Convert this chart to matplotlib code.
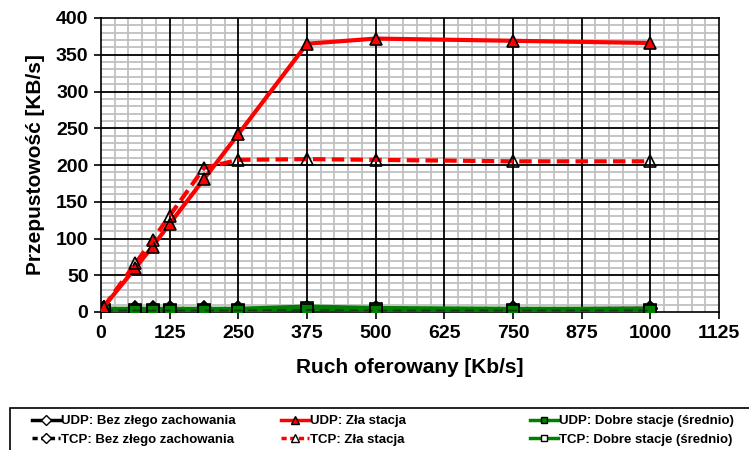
import matplotlib.pyplot as plt
from matplotlib.patches import Rectangle
from matplotlib.lines import Line2D

# offered load [Kb/s]
x = [5, 62.5, 93.75, 125, 187.5, 250, 375, 500, 750, 1000]

# throughput [KB/s]
udp_bez = [5, 5, 5, 5, 5, 5, 5, 5, 5, 6]
tcp_bez = [5, 4, 4, 4, 4, 4, 5, 4, 4, 4]
udp_zla = [7, 60, 89, 120, 181, 242, 365, 372, 369, 366]
tcp_zla = [7, 66, 98, 131, 196, 207, 208, 207, 205, 205]
udp_dobre = [3, 3, 3, 3, 3, 3, 6, 4, 3, 3]
tcp_dobre = [2, 2, 2, 2, 2, 2, 3, 2, 2, 2]

xticks = [0, 125, 250, 375, 500, 625, 750, 875, 1000, 1125]
yticks = [0, 50, 100, 150, 200, 250, 300, 350, 400]

plt.rcParams['font.family'] = ['Liberation Sans', 'DejaVu Sans']

fig = plt.figure(figsize=(7.49, 4.5), dpi=100)
ax = fig.add_axes([101/749, 1-312/450, (719-101)/749, (312-18)/450])

green = '#008000'
# series (green drawn over black, red on top)
ax.plot(x, udp_bez, color='black', lw=1.5, marker='D', ms=7, mfc='white', mec='black', mew=1.2, zorder=3)
ax.plot(x, tcp_bez, color='black', lw=1.5, ls=(0, (5, 3)), marker='D', ms=7, mfc='none', mec='black', mew=1.2, zorder=3)
ax.plot(x, udp_dobre, color=green, lw=4.5, marker='s', ms=8, mfc=green, mec='black', mew=1.2, zorder=4)
ax.plot(x, tcp_dobre, color='#0a3d0a', lw=1.3, ls=(0, (5, 3)), marker='s', ms=8, mfc='none', mec='black', mew=1.2, zorder=4)
ax.plot(x, udp_zla, color='red', lw=3, marker='^', ms=9, mfc='red', mec='black', mew=1.2, zorder=5)
ax.plot(x, tcp_zla, color='red', lw=3, ls=(0, (3, 1.5)), marker='^', ms=9, mfc='none', mec='black', mew=1.2, zorder=5)

ax.set_xlim(0, 1125)
ax.set_ylim(0, 400)
ax.set_xticks(xticks)
ax.set_yticks(yticks)
ax.set_xticks(range(0, 1126, 25), minor=True)
ax.set_yticks(range(0, 401, 10), minor=True)
# gray minor grid, black major grid drawn on top of it
ax.grid(which='minor', color='#c0c0c0', lw=1.3)
ax.set_axisbelow(True)
for v in xticks[1:-1]:
    ax.axvline(v, color='black', lw=1.3, zorder=1)
for v in yticks[1:-1]:
    ax.axhline(v, color='black', lw=1.3, zorder=1)
ax.tick_params(which='minor', length=0)
ax.tick_params(which='major', direction='out', length=5, width=1.2, labelsize=14, pad=4)
for lbl in ax.get_xticklabels() + ax.get_yticklabels():
    lbl.set_fontweight('bold')
for s in ax.spines.values():
    s.set_linewidth(1.2)
    s.set_zorder(2)

ax.set_xlabel('Ruch oferowany [Kb/s]', fontsize=15, fontweight='bold', labelpad=12)
ax.set_ylabel('Przepustowość [KB/s]', fontsize=15, fontweight='bold', labelpad=8)

# legend box at the bottom (cut off by the figure edge)
fig.patches.append(Rectangle((10/749, -0.05), 1.0, 1-408/450+0.05, transform=fig.transFigure,
                             fill=False, edgecolor='black', lw=1.2))

handles = [
    Line2D([], [], color='black', lw=2.5, marker='D', ms=5, mfc='white', mec='black'),
    Line2D([], [], color='black', lw=2.5, ls=(0, (1.5, 1)), marker='D', ms=5, mfc='white', mec='black'),
    Line2D([], [], color='red', lw=2.5, marker='^', ms=6, mfc='red', mec='black'),
    Line2D([], [], color='red', lw=2.5, ls=(0, (1.5, 1)), marker='^', ms=6, mfc='white', mec='black'),
    Line2D([], [], color=green, lw=2.5, marker='s', ms=5, mfc=green, mec='black'),
    Line2D([], [], color=green, lw=2.5, marker='s', ms=5, mfc='white', mec='black'),
]
labels = ['UDP: Bez złego zachowania', 'TCP: Bez złego zachowania',
          'UDP: Zła stacja', 'TCP: Zła stacja',
          'UDP: Dobre stacje (średnio)', 'TCP: Dobre stacje (średnio)']
col_x = [32, 281, 530]
for i, cx in enumerate(col_x):
    fig.legend(handles[2*i:2*i+2], labels[2*i:2*i+2], loc='upper left',
               bbox_to_anchor=(cx/749, 1-415/450), ncol=1,
               frameon=False, handlelength=2.1, handletextpad=0.1,
               labelspacing=0.5, borderpad=0, borderaxespad=0,
               prop={'weight': 'bold', 'size': 9.5})

fig.savefig('out.png', dpi=100)
